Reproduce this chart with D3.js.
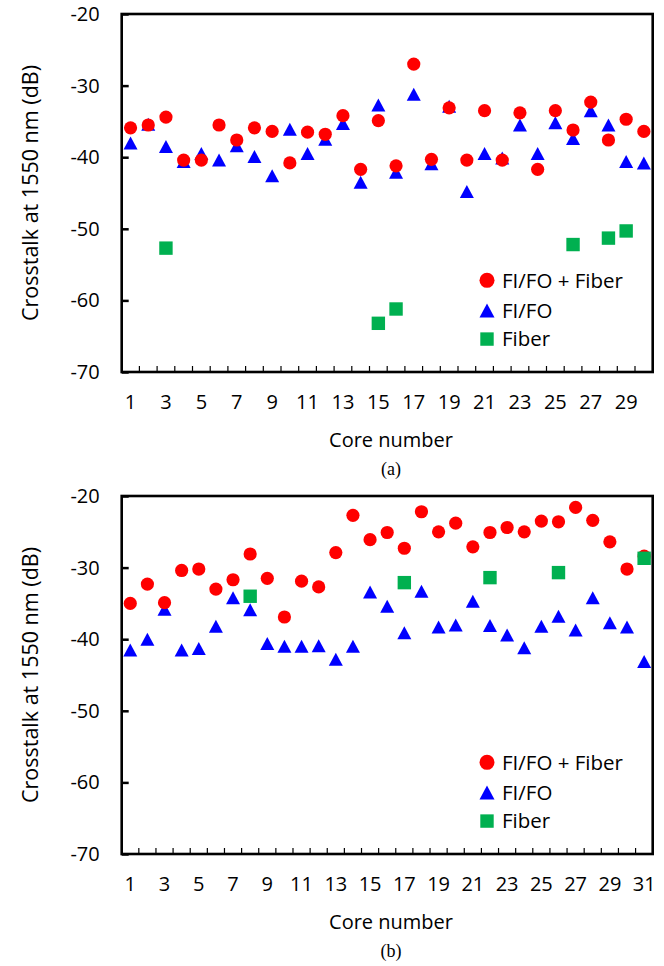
<!DOCTYPE html>
<html><head><meta charset="utf-8">
<script src="https://cdn.jsdelivr.net/npm/d3@7"></script>
<style>body{margin:0;background:#fff}svg{display:block}</style>
</head><body><svg id="c" width="664" height="966"></svg>
<script>
// ---- data: panel (a) ----
const coresA = [1,2,3,4,5,6,7,8,9,10,11,12,13,14,15,16,17,18,19,20,21,22,23,24,25,26,27,28,29,30];
const fifoFiberA = [-35.9,-35.5,-34.4,-40.4,-40.4,-35.5,-37.6,-35.9,-36.4,-40.8,-36.5,-36.8,-34.2,-41.7,-34.9,
                    -41.2,-27.0,-40.3,-33.1,-40.4,-33.5,-40.4,-33.8,-41.7,-33.5,-36.2,-32.3,-37.6,-34.7,-36.4];
const fifoA = [-38.0,-35.4,-38.5,-40.6,-39.5,-40.4,-38.4,-39.9,-42.6,-36.1,-39.5,-37.5,-35.3,-43.5,-32.7,
               -42.1,-31.2,-40.9,-32.9,-44.8,-39.5,-40.1,-35.5,-39.5,-35.2,-37.4,-33.5,-35.5,-40.6,-40.8];
const fiberCoresA = [3,15,16,26,28,29];
const fiberA = [-52.7,-63.2,-61.2,-52.2,-51.3,-50.3];
const xTickLabelsA = [1,3,5,7,9,11,13,15,17,19,21,23,25,27,29];

// ---- data: panel (b) ----
const coresB = [1,2,3,4,5,6,7,8,9,10,11,12,13,14,15,16,17,18,19,20,21,22,23,24,25,26,27,28,29,30,31];
const fifoFiberB = [-35.0,-32.3,-34.9,-30.4,-30.2,-33.0,-31.7,-28.1,-31.5,-36.9,-31.9,-32.7,-27.9,-22.7,-26.1,
                    -25.1,-27.3,-22.2,-25.0,-23.8,-27.1,-25.1,-24.4,-25.0,-23.5,-23.6,-21.6,-23.4,-26.4,-30.2,-28.4];
const fifoB = [-41.5,-40.0,-35.8,-41.5,-41.3,-38.2,-34.2,-35.9,-40.6,-41.0,-41.0,-40.9,-42.8,-41.0,-33.4,
               -35.4,-39.1,-33.3,-38.3,-38.0,-34.7,-38.1,-39.4,-41.2,-38.2,-36.8,-38.7,-34.2,-37.7,-38.3,-43.1];
const fiberCoresB = [8,17,22,26,31];
const fiberB = [-34.0,-32.1,-31.4,-30.7,-28.7];
const xTickLabelsB = [1,3,5,7,9,11,13,15,17,19,21,23,25,27,29,31];

// ---- shared ----
const yTicks = [-20,-30,-40,-50,-60,-70];
const seriesNames = ["FI/FO + Fiber","FI/FO","Fiber"];
const seriesColors = ["#FF0000","#0000FF","#00B050"];
const captions = ["(a)","(b)"];
const yTitle = "Crosstalk at 1550 nm (dB)";
const xTitle = "Core number";

const FONT = "'Open Sans', sans-serif";
const svg = d3.select("#c");

const triPath = (w,h) => `M0,${-h/2}L${w/2},${h/2}L${-w/2},${h/2}Z`;

function panel(top, bottom, cores, red, blue, fCores, fVals, xLabels, caption) {
  const L = 121.7, R = 652.7;
  const g = svg.append("g");
  const x = d3.scaleBand().domain(cores).range([L, R]).paddingInner(0).paddingOuter(0);
  const cx = c => x(c) + x.bandwidth()/2;
  const y = d3.scaleLinear().domain([-70,-20]).range([bottom, top]);

  // y axis
  const ya = g.append("g").attr("transform", `translate(${L},0)`)
    .call(d3.axisLeft(y).tickValues(yTicks).tickSizeInner(-7).tickSizeOuter(0).tickPadding(22).tickFormat(d => String(d)));
  ya.select(".domain").remove();
  ya.selectAll(".tick line").attr("stroke","#000").attr("stroke-width",2.5);
  ya.selectAll("text").attr("font-family",FONT).attr("font-size",20).attr("fill","#000");

  // x axis labels
  const xa = g.append("g").attr("transform", `translate(0,${bottom})`)
    .call(d3.axisBottom(x).tickValues(xLabels).tickSize(0).tickPadding(23));
  xa.select(".domain").remove();
  xa.selectAll("text").attr("font-family",FONT).attr("font-size",20).attr("fill","#000");

  // x boundary ticks (inside, upward)
  g.append("g").selectAll("line").data(cores.slice(1)).join("line")
    .attr("x1", c => x(c)).attr("x2", c => x(c))
    .attr("y1", bottom).attr("y2", bottom - 6)
    .attr("stroke","#000").attr("stroke-width",1.2);

  // frame
  g.append("rect").attr("x",L).attr("y",top).attr("width",R-L).attr("height",bottom-top)
    .attr("fill","none").attr("stroke","#000").attr("stroke-width",2.6);

  // series
  g.append("g").selectAll("path").data(cores).join("path")
    .attr("d", triPath(14,13))
    .attr("transform", (c,i) => `translate(${cx(c)},${y(blue[i])})`)
    .attr("fill", seriesColors[1]);
  g.append("g").selectAll("circle").data(cores).join("circle")
    .attr("cx", c => cx(c)).attr("cy", (c,i) => y(red[i])).attr("r", 6.6)
    .attr("fill", seriesColors[0]);
  g.append("g").selectAll("rect").data(fCores).join("rect")
    .attr("x", c => cx(c) - 6.7).attr("y", (c,i) => y(fVals[i]) - 6.7)
    .attr("width", 13.4).attr("height", 13.4)
    .attr("fill", seriesColors[2]);

  // legend
  const legY = [y(-57.2), y(-61.4), y(-65.4)];
  const lx = 487;
  const leg = g.append("g");
  leg.append("circle").attr("cx", lx).attr("cy", legY[0]).attr("r", 7.5).attr("fill", seriesColors[0]);
  leg.append("path").attr("d", triPath(15,14)).attr("transform", `translate(${lx},${legY[1]})`).attr("fill", seriesColors[1]);
  leg.append("rect").attr("x", lx-6.7).attr("y", legY[2]-6.7).attr("width",13.4).attr("height",13.4).attr("fill", seriesColors[2]);
  leg.selectAll("text").data(seriesNames).join("text")
    .attr("x", 502).attr("y", (d,i) => legY[i]).attr("dy","0.36em")
    .attr("font-family",FONT).attr("font-size",20.5).attr("fill","#000")
    .text(d => d);

  // titles
  g.append("text").attr("transform", `translate(30,${(top+bottom)/2}) rotate(-90)`)
    .attr("text-anchor","middle").attr("dy","0.36em")
    .attr("font-family",FONT).attr("font-size",21.5).attr("fill","#000").text(yTitle);
  g.append("text").attr("x", 391).attr("y", bottom + 68).attr("dy","0.36em")
    .attr("text-anchor","middle").attr("font-family",FONT).attr("font-size",20).attr("fill","#000").text(xTitle);
  g.append("text").attr("x", 391).attr("y", bottom + 97).attr("dy","0.36em")
    .attr("text-anchor","middle").attr("font-family","'Liberation Serif', 'Times New Roman', serif")
    .attr("font-size",18).attr("fill","#000").text(caption);
}

panel(14, 372, coresA, fifoFiberA, fifoA, fiberCoresA, fiberA, xTickLabelsA, captions[0]);
panel(496, 854, coresB, fifoFiberB, fifoB, fiberCoresB, fiberB, xTickLabelsB, captions[1]);
</script>
</body></html>
